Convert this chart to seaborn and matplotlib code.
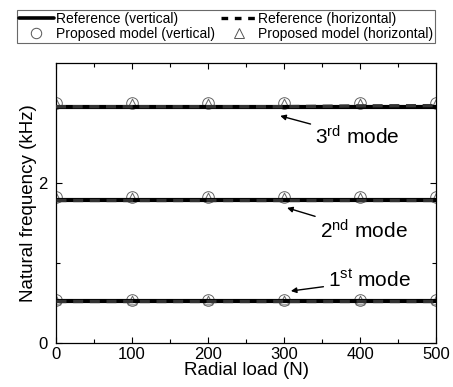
import matplotlib
matplotlib.use("Agg")
import matplotlib.pyplot as plt
import seaborn as sns
import pandas as pd
from matplotlib.ticker import MultipleLocator
from matplotlib.lines import Line2D

# ---- data ----
loads = [0, 100, 200, 300, 400, 500]
ref_vert_1 = [0.53, 0.53, 0.53, 0.53, 0.53, 0.53]
ref_vert_2 = [1.79, 1.79, 1.79, 1.79, 1.79, 1.79]
ref_vert_3 = [2.955, 2.955, 2.955, 2.955, 2.955, 2.955]
ref_horiz_1 = [0.53, 0.53, 0.53, 0.53, 0.53, 0.53]
ref_horiz_2 = [1.79, 1.79, 1.79, 1.79, 1.79, 1.79]
ref_horiz_3 = [2.955, 2.955, 2.955, 2.955, 2.965, 2.968]
prop_vert_1 = [0.54, 0.54, 0.54, 0.54, 0.54, 0.54]
prop_vert_2 = [1.83, 1.83, 1.83, 1.83, 1.83, 1.83]
prop_vert_3 = [3.0, 3.0, 3.0, 3.0, 3.0, 3.0]
prop_horiz_1 = [0.54, 0.54, 0.54, 0.54, 0.54, 0.54]
prop_horiz_2 = [1.83, 1.83, 1.83, 1.83, 1.83, 1.83]
prop_horiz_3 = [3.0, 3.0, 3.0, 3.0, 3.0, 3.0]
mode_labels = ["1$^{st}$ mode", "2$^{nd}$ mode", "3$^{rd}$ mode"]

sns.set_style("ticks")
plt.rcParams["font.family"] = ["Liberation Sans", "DejaVu Sans"]
plt.rcParams["mathtext.default"] = "regular"
plt.rcParams["xtick.direction"] = "in"
plt.rcParams["ytick.direction"] = "in"
plt.rcParams["text.color"] = "black"
plt.rcParams["axes.labelcolor"] = "black"

fig = plt.figure(figsize=(4.53, 3.87), dpi=100)
ax = fig.add_axes([0.1236, 0.1137, 0.9625 - 0.1236, 0.837 - 0.1137])

def long(vals_list, name):
    rows = []
    for m, vals in enumerate(vals_list):
        for x, v in zip(loads, vals):
            rows.append({"load": x, "freq": v, "mode": m, "series": name})
    return pd.DataFrame(rows)

pv = long([prop_vert_1, prop_vert_2, prop_vert_3], "pv")
ph = long([prop_horiz_1, prop_horiz_2, prop_horiz_3], "ph")
rv = long([ref_vert_1, ref_vert_2, ref_vert_3], "rv")
rh = long([ref_horiz_1, ref_horiz_2, ref_horiz_3], "rh")

sns.scatterplot(data=pv, x="load", y="freq", marker="o", s=70, facecolor="white",
                edgecolor="#666666", linewidth=0.7, ax=ax, legend=False, zorder=2)
sns.scatterplot(data=ph, x="load", y="freq", marker="^", s=40, facecolor="white",
                edgecolor="#666666", linewidth=0.7, ax=ax, legend=False, zorder=2)
sns.lineplot(data=rv, x="load", y="freq", units="mode", estimator=None, color="black",
             linewidth=3.0, ax=ax, legend=False, zorder=3)
sns.lineplot(data=rh, x="load", y="freq", units="mode", estimator=None, color="#333333",
             linewidth=2.4, linestyle=(0, (3, 2)), ax=ax, legend=False, zorder=4)

ax.set_xlim(0, 500)
ax.set_ylim(0, 3.5)
ax.xaxis.set_major_locator(MultipleLocator(100))
ax.xaxis.set_minor_locator(MultipleLocator(50))
ax.yaxis.set_major_locator(MultipleLocator(2))
ax.yaxis.set_minor_locator(MultipleLocator(1))
ax.tick_params(which="both", top=True, right=True, labelsize=12, colors="black")
ax.tick_params(axis="x", pad=3)
ax.tick_params(axis="y", pad=6)
ax.tick_params(which="major", length=4, width=0.8)
ax.tick_params(which="minor", length=3, width=0.8)
for sp in ax.spines.values():
    sp.set_linewidth(0.9)
    sp.set_color("black")
ax.set_xlabel("Radial load (N)", fontsize=13.5, labelpad=0)
ax.set_ylabel("Natural frequency (kHz)", fontsize=13.5, labelpad=1)

# annotations
arrow = dict(arrowstyle="-|>", color="black", lw=1.0, mutation_scale=8, shrinkA=1, shrinkB=0)
ax.annotate(mode_labels[2], xy=(295, 2.84), xytext=(341, 2.58), fontsize=15,
            ha="left", va="center", arrowprops=arrow)
ax.annotate(mode_labels[1], xy=(304, 1.69), xytext=(347, 1.40), fontsize=15,
            ha="left", va="center", arrowprops=arrow)
ax.annotate(mode_labels[0], xy=(309, 0.65), xytext=(358, 0.78), fontsize=15,
            ha="left", va="center", arrowprops=arrow)

handles = [
    Line2D([], [], color="black", lw=2.6),
    Line2D([], [], marker="o", ls="none", mfc="white", mec="#555555", ms=7.5, mew=0.7),
    Line2D([], [], color="black", lw=2.4, ls=(0, (2, 2))),
    Line2D([], [], marker="^", ls="none", mfc="white", mec="#555555", ms=6.5, mew=0.7),
]
labels = ["Reference (vertical)", "Proposed model (vertical)",
          "Reference (horizontal)", "Proposed model (horizontal)"]
leg = fig.legend(handles, labels, ncol=2, loc="upper left",
                 bbox_to_anchor=(17 / 453, 1 - 10 / 387), fontsize=10,
                 frameon=True, fancybox=False, edgecolor="#444444",
                 handlelength=2.5, handletextpad=0.15, columnspacing=0.45,
                 labelspacing=0.05, borderpad=0.15, borderaxespad=0)
leg.get_frame().set_linewidth(0.8)

fig.savefig("out.png", dpi=100)
